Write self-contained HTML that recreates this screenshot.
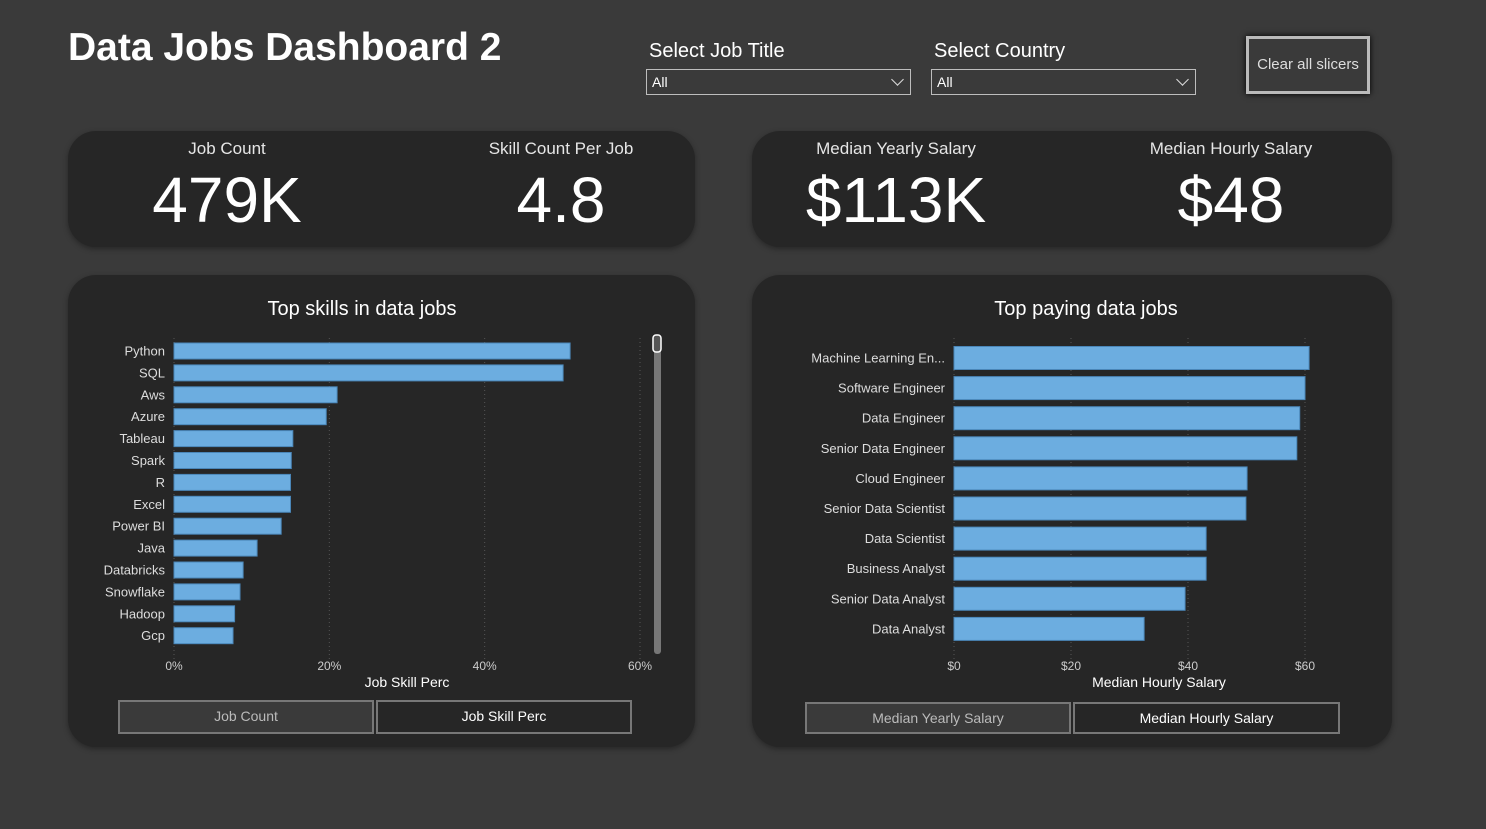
<!DOCTYPE html>
<html><head><meta charset="utf-8">
<style>
body{margin:0;width:1486px;height:829px;background:#3a3a3a;font-family:"Liberation Sans",sans-serif;color:#fff;position:relative;overflow:hidden}
.abs{position:absolute}
.card{position:absolute;background:#262626;border-radius:28px;box-shadow:0 2px 6px rgba(0,0,0,.35)}
.lbl{position:absolute;font-size:17px;color:#e6e6e6;text-align:center}
.big{position:absolute;font-size:64px;text-align:center}
.dd{position:absolute;height:26px;border:1px solid #bdbdbd;background:#3a3a3a;font-size:14px;box-sizing:border-box;padding:4px 5px}
.chev{position:absolute;right:8px;top:5px;width:8px;height:8px;border-right:1.5px solid #ddd;border-bottom:1.5px solid #ddd;transform:rotate(45deg)}
.btn{position:absolute;border:2px solid #777;box-sizing:border-box;font-size:14px;text-align:center;line-height:28px}
</style></head><body>
<div class="abs" style="left:68px;top:26px;font-size:39px;font-weight:bold">Data Jobs Dashboard 2</div>
<div class="abs" style="left:649px;top:40px;font-size:20px">Select Job Title</div>
<div class="dd" style="left:646px;top:69px;width:265px">All<span class="chev"></span></div>
<div class="abs" style="left:934px;top:40px;font-size:20px">Select Country</div>
<div class="dd" style="left:931px;top:69px;width:265px">All<span class="chev"></span></div>
<div class="abs" style="left:1246px;top:36px;width:124px;height:58px;border:3px solid #bbb;box-sizing:border-box;box-shadow:0 0 6px #000;font-size:15px;color:#ddd;text-align:center;line-height:52px">Clear all slicers</div>

<div class="card" style="left:68px;top:131px;width:627px;height:116px"></div>
<div class="lbl" style="left:127px;top:139px;width:200px">Job Count</div>
<div class="big" style="left:107px;top:163px;width:240px">479K</div>
<div class="lbl" style="left:441px;top:139px;width:240px">Skill Count Per Job</div>
<div class="big" style="left:441px;top:163px;width:240px">4.8</div>

<div class="card" style="left:752px;top:131px;width:640px;height:116px"></div>
<div class="lbl" style="left:776px;top:139px;width:240px">Median Yearly Salary</div>
<div class="big" style="left:776px;top:163px;width:240px">$113K</div>
<div class="lbl" style="left:1111px;top:139px;width:240px">Median Hourly Salary</div>
<div class="big" style="left:1111px;top:163px;width:240px">$48</div>

<div class="card" style="left:68px;top:275px;width:627px;height:472px"></div>
<div class="card" style="left:752px;top:275px;width:640px;height:472px"></div>
<svg class="abs" style="left:0;top:0" width="1486" height="829" id="svg"></svg>
<div class="btn" style="left:118px;top:700px;width:256px;height:34px;background:#3a3a3a;color:#bbb">Job Count</div>
<div class="btn" style="left:376px;top:700px;width:256px;height:34px;color:#fff">Job Skill Perc</div>
<div class="btn" style="left:805px;top:702px;width:266px;height:32px;background:#3a3a3a;color:#bbb">Median Yearly Salary</div>
<div class="btn" style="left:1073px;top:702px;width:267px;height:32px;color:#fff">Median Hourly Salary</div>
<script>
const skills=["Python","SQL","Aws","Azure","Tableau","Spark","R","Excel","Power BI","Java","Databricks","Snowflake","Hadoop","Gcp"];
const skillPerc=[51,50.1,21,19.6,15.3,15.1,15,15,13.8,10.7,8.9,8.5,7.8,7.6];
const skillTicks=[0,20,40,60];
const jobs=["Machine Learning En...","Software Engineer","Data Engineer","Senior Data Engineer","Cloud Engineer","Senior Data Scientist","Data Scientist","Business Analyst","Senior Data Analyst","Data Analyst"];
const hourly=[60.7,60,59.1,58.6,50.1,49.9,43.1,43.1,39.5,32.5];
const salaryTicks=[0,20,40,60];
const svg=document.getElementById('svg');
const NS="http://www.w3.org/2000/svg";
function mk(t,a,txt){const e=document.createElementNS(NS,t);for(const k in a)e.setAttribute(k,a[k]);if(txt!==undefined)e.textContent=txt;svg.appendChild(e);return e;}
function chart(o){
  const x=v=>o.x0+v*(o.x1-o.x0)/o.max;
  const y=i=>o.yc0+i*o.step;
  mk('text',{x:o.tx,y:315,fill:'#fff','font-size':20,'text-anchor':'middle'},o.title);
  o.ticks.forEach(t=>{
    const g=mk('line',{x1:x(t),x2:x(t),y1:o.gy0,y2:o.gy1,stroke:'#555','stroke-dasharray':'1,3'});
    
    
    const l=mk('text',{x:x(t),y:670,fill:'#ccc','font-size':12,'text-anchor':'middle'},o.fmt(t));
    
    
  });
  o.cats.forEach((c,i)=>{
    const l=mk('text',{x:o.x0-9,y:y(i)+4.5,fill:'#ddd','font-size':13,'text-anchor':'end'},c);
    
    
    const b=mk('rect',{x:o.x0,y:y(i)-o.bh/2,width:x(o.vals[i])-o.x0,height:o.bh,fill:'#6cade0',stroke:'#4a86b8','stroke-width':1});
    
    
  });
  const t=mk('text',{x:o.axx,y:687,fill:'#fff','font-size':14,'text-anchor':'middle'},o.axis);
  
  
}
chart({key:'skills',title:'Top skills in data jobs',tx:362,x0:174,x1:640,max:60,yc0:351,step:21.9,bh:16,gy0:338,gy1:660,cats:skills,vals:skillPerc,ticks:skillTicks,fmt:v=>v+'%',axis:'Job Skill Perc',axx:407});
chart({key:'paying',title:'Top paying data jobs',tx:1086,x0:954,x1:1305,max:60,yc0:358,step:30.1,bh:23,gy0:338,gy1:660,cats:jobs,vals:hourly,ticks:salaryTicks,fmt:v=>'$'+v,axis:'Median Hourly Salary',axx:1159});
const sb=mk('rect',{x:654,y:336,width:7,height:318,rx:3,fill:'#777'});


const th=mk('rect',{x:653,y:335,width:8,height:17,rx:3,fill:'#555',stroke:'#fff','stroke-width':1.5});


</script>
</body></html>
